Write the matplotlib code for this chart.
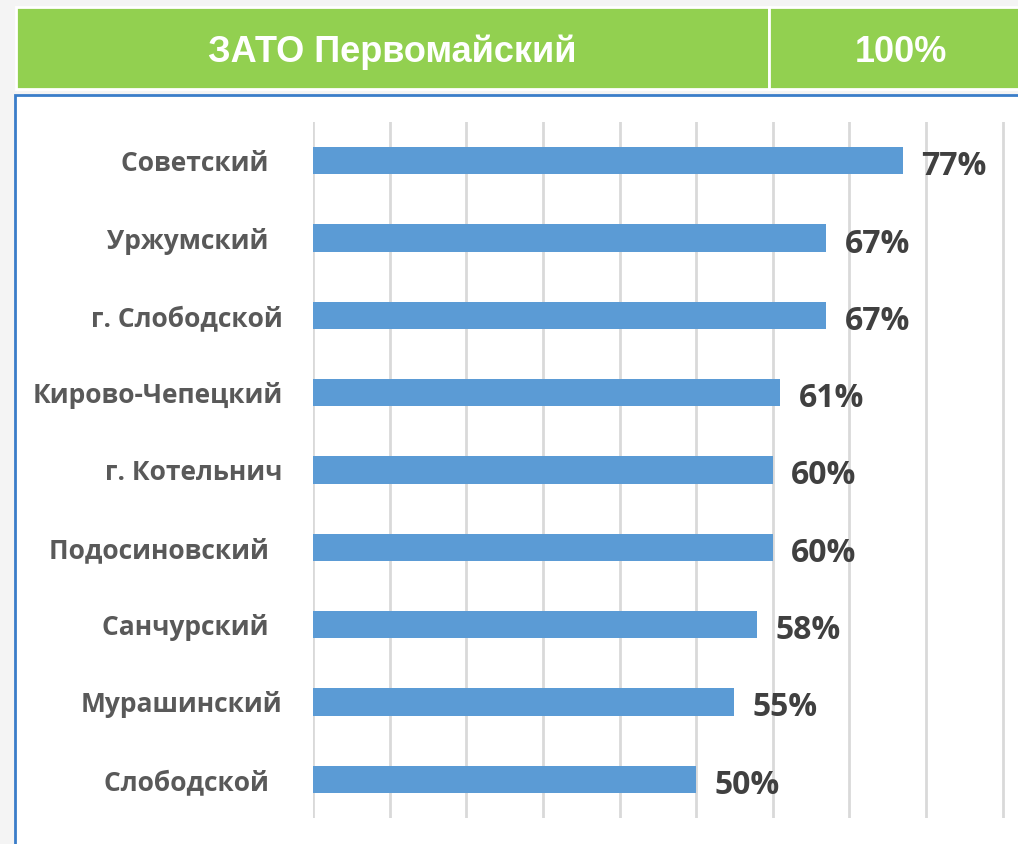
import matplotlib.pyplot as plt
from matplotlib.patches import Rectangle

# данные (сверху вниз)
districts = [
    "Советский  ",
    "Уржумский  ",
    "г. Слободской",
    "Кирово-Чепецкий",
    "г. Котельнич",
    "Подосиновский  ",
    "Санчурский  ",
    "Мурашинский",
    "Слободской  ",
]
values = [77, 67, 67, 61, 60, 60, 58, 55, 50]

header_name = "ЗАТО Первомайский"
header_value = "100%"

BAR_COLOR = "#5B9BD5"
GREEN = "#92D050"
GRID = "#D9D9D9"

W, H = 1018, 844

fig = plt.figure(figsize=(W / 100, H / 100), dpi=100)
fig.patch.set_facecolor("#F4F4F4")

# шапка
fig.patches.append(Rectangle((16 / W, 1 - 89 / H), (769 - 16) / W, 82 / H,
                             transform=fig.transFigure, facecolor=GREEN,
                             edgecolor="white", linewidth=2))
fig.patches.append(Rectangle((769 / W, 1 - 89 / H), (W - 769 + 5) / W, 82 / H,
                             transform=fig.transFigure, facecolor=GREEN,
                             edgecolor="white", linewidth=2))
fig.text(392 / W, 1 - 52 / H, header_name, color="white", fontsize=26,
         fontweight="bold", family=["Liberation Sans", "DejaVu Sans"],
         ha="center", va="center")
fig.text(901 / W, 1 - 52 / H, header_value, color="white", fontsize=26,
         fontweight="bold", family=["Liberation Sans", "DejaVu Sans"],
         ha="center", va="center")

# белая панель с синей рамкой
fig.patches.append(Rectangle((15 / W, -0.01), (W - 15 + 10) / W, (1 - 95 / H) + 0.01,
                             transform=fig.transFigure, facecolor="white",
                             edgecolor="#3A7DC9", linewidth=2, zorder=-1))

ax = fig.add_axes([313 / W, 26 / H, (W - 313) / W, (818 - 122) / H])
ax.set_facecolor("none")

y = list(range(len(districts)))[::-1]
bars = ax.barh(y, values, height=0.35, color=BAR_COLOR, zorder=3)

ax.set_xlim(0, 92)
ax.set_ylim(-0.5, len(districts) - 0.5)
ax.set_xticks(range(0, 100, 10))
ax.xaxis.grid(True, color=GRID, linewidth=2, zorder=0)
ax.tick_params(axis="x", length=0, labelbottom=False)
ax.tick_params(axis="y", length=0, pad=22)
ax.set_yticks(y)
ax.set_yticklabels(districts, fontsize=19, fontweight="bold", color="#595959",
                   family=["Open Sans", "DejaVu Sans"])

for spine in ax.spines.values():
    spine.set_visible(False)

for bar, v in zip(bars, values):
    ax.annotate(f"{v}%", (bar.get_width(), bar.get_y() + bar.get_height() / 2),
                xytext=(18, -6), textcoords="offset pixels", ha="left", va="center",
                fontsize=23, fontweight="bold", color="#404040",
                family=["Open Sans", "DejaVu Sans"], zorder=4)

fig.savefig("out.png", dpi=100, facecolor=fig.get_facecolor())
